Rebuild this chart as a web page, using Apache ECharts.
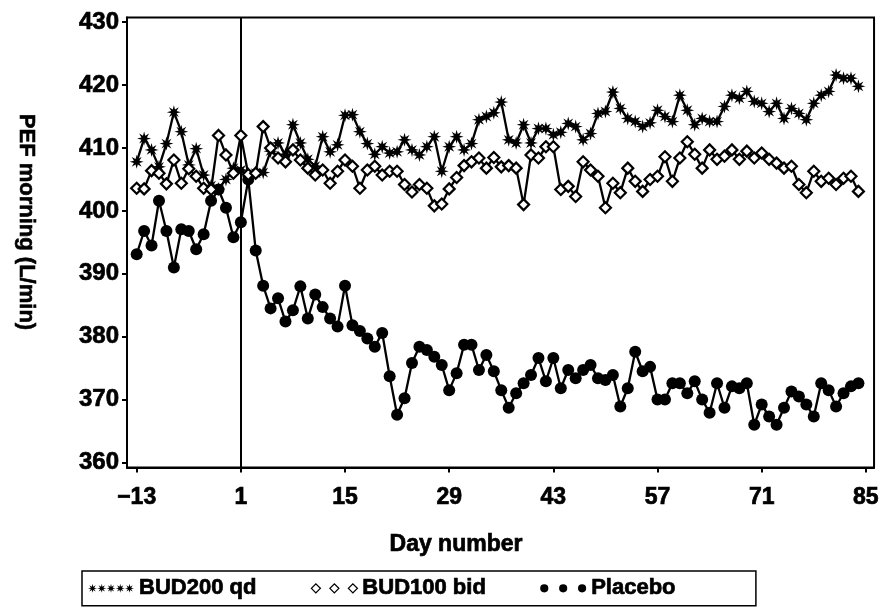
<!DOCTYPE html>
<html><head><meta charset="utf-8">
<script src="https://cdn.jsdelivr.net/npm/echarts@6/dist/echarts.min.js"></script>
<style>html,body{margin:0;padding:0;background:#fff}#c{width:882px;height:612px}</style>
</head><body><div id="c"></div>
<script>
// ---- data ----
const days = [-13,-12,-11,-10,-9,-8,-7,-6,-5,-4,-3,-2,-1,0,1,2,3,4,5,6,7,8,9,10,11,12,13,14,15,16,17,18,19,20,21,22,23,24,25,26,27,28,29,30,31,32,33,34,35,36,37,38,39,40,41,42,43,44,45,46,47,48,49,50,51,52,53,54,55,56,57,58,59,60,61,62,63,64,65,66,67,68,69,70,71,72,73,74,75,76,77,78,79,80,81,82,83,84];
const bud200 = [
  407.8,411.5,409.7,407.0,410.7,415.7,412.6,407.3,409.9,405.7,
  404.0,403.5,405.0,406.8,406.5,405.5,406.0,406.1,409.5,410.8,
  409.0,413.7,410.8,408.2,407.1,411.8,409.4,410.5,415.2,415.3,
  412.6,410.7,409.0,410.2,409.2,409.4,411.3,409.7,408.9,410.2,
  411.8,406.3,410.2,411.8,409.7,410.7,414.5,415.0,415.6,417.3,
  411.3,410.8,413.7,410.8,413.1,413.1,412.1,412.5,413.9,413.4,
  411.3,412.3,415.5,415.8,418.9,416.3,414.7,414.2,413.4,414.0,
  416.0,415.0,414.2,418.4,416.0,413.7,414.7,414.2,414.2,416.6,
  418.4,417.9,419.0,417.4,417.1,415.8,417.1,414.7,416.3,415.5,
  414.5,417.1,418.4,419.0,421.6,421.1,421.1,419.8];
const bud100 = [
  403.6,403.5,406.4,406.0,404.3,408.1,404.4,406.7,405.5,403.6,
  403.4,412.0,408.9,406.0,412.0,405.8,406.0,413.4,410.0,408.4,
  407.8,409.7,408.1,406.8,405.7,406.5,404.4,406.3,408.1,407.1,
  403.6,406.5,407.1,405.7,406.3,406.3,404.2,403.0,404.2,403.6,
  400.8,401.1,403.5,405.3,407.2,407.8,408.4,406.8,408.5,407.0,
  407.2,406.8,401.0,408.9,408.4,410.2,410.2,403.4,403.9,402.3,
  407.8,406.5,405.5,400.5,404.4,402.9,406.8,404.7,403.1,405.0,
  405.5,408.6,404.7,408.4,411.0,409.0,406.8,409.7,408.2,408.7,
  409.7,408.2,409.5,408.4,409.2,408.2,407.6,406.8,407.1,404.2,
  402.9,406.3,404.7,405.2,404.2,405.2,405.5,403.1];
const placebo = [
  393.1,396.8,394.5,401.6,396.8,391.0,397.1,396.8,393.9,396.3,
  401.6,403.4,400.5,395.8,398.2,405.0,393.7,388.1,384.5,386.1,
  382.4,384.2,388.0,382.9,386.7,384.7,382.9,381.6,388.1,381.8,
  380.9,379.7,378.4,380.6,373.7,367.6,370.2,375.8,378.4,377.9,
  376.8,375.5,371.5,374.2,378.7,378.7,374.7,377.1,374.5,371.5,
  368.7,371.0,372.6,373.9,376.6,372.9,376.6,371.8,374.7,373.4,
  374.7,375.5,373.4,373.1,373.9,368.9,371.8,377.6,374.5,375.2,
  370.0,370.0,372.6,372.6,371.0,372.9,370.0,367.9,372.6,368.7,
  372.1,371.8,372.6,366.0,369.2,367.3,366.0,368.7,371.3,370.5,
  369.2,367.3,372.6,371.5,368.9,371.0,372.1,372.6];
const xTicks = [-13,1,15,29,43,57,71,85];
const yTicks = [360,370,380,390,400,410,420,430];
const seriesNames = ['BUD200 qd','BUD100 bid','Placebo'];
const xTitle = 'Day number';
const yTitle = 'PEF morning (L/min)';
const treatmentStartDay = 1;

// ---- symbol paths (styling helpers) ----
function star(cx, cy, ro, ri) {
  let d = '';
  for (let k = 0; k < 16; k++) {
    const a = k * Math.PI / 8;
    const r = k % 2 === 0 ? ro : ri;
    const x = (cx + r * Math.cos(a)).toFixed(2), y = (cy + r * Math.sin(a)).toFixed(2);
    d += (k === 0 ? 'M' : 'L') + x + ' ' + y + ' ';
  }
  return d + 'Z ';
}
const starSymbol = 'path://' + star(10, 10, 10, 4.2);
const starRow = 'path://' + [4.5, 13.75, 23, 32.25, 41.5].map(c => star(c, 4.5, 4.5, 1.8)).join('');
const diamondRow = 'path://' + [4.5, 23, 41.5].map(c => `M${c-4.5} 4.5 L${c} 0 L${c+4.5} 4.5 L${c} 9 Z `).join('');
const dotRow = 'path://' + [4.5, 23, 41.5].map(c => `M${c-4} 4.5 A4 4 0 1 0 ${c+4} 4.5 A4 4 0 1 0 ${c-4} 4.5 Z `).join('');

const FONT = '"Liberation Sans", Arial, sans-serif';
const heavy = {fontFamily: FONT, fontWeight: 'bold', color: '#000', textBorderColor: '#000', textBorderWidth: 0.7};
const zip = arr => days.map((d, i) => [d, arr[i]]);

const chart = echarts.init(document.getElementById('c'), null, {renderer: 'canvas'});
chart.setOption({
  backgroundColor: '#fff',
  animation: false,
  grid: {left: 127, right: 7, top: 17.5, bottom: 144.5, show: true, borderColor: '#000', borderWidth: 2},
  xAxis: {
    type: 'value', min: -14.3, max: 86.1,
    axisLine: {show: true, onZero: false, lineStyle: {color: '#000', width: 2}},
    axisTick: {show: true, length: 5, inside: false, customValues: xTicks, lineStyle: {color: '#000', width: 2}},
    axisLabel: Object.assign({customValues: xTicks, margin: 19, fontSize: 23,
      formatter: v => String(v).replace('-', '\u2212')}, heavy),
    splitLine: {show: false}
  },
  yAxis: {
    type: 'value', min: 359.2, max: 430.75,
    axisLine: {show: true, onZero: false, lineStyle: {color: '#000', width: 2}},
    axisTick: {show: true, length: 5, customValues: yTicks, lineStyle: {color: '#000', width: 2}},
    axisLabel: Object.assign({customValues: yTicks, margin: 8, fontSize: 24}, heavy),
    splitLine: {show: false}
  },
  graphic: [{
    type: 'text', x: 26, y: 222, rotation: -Math.PI / 2,
    style: {text: yTitle, fontFamily: FONT, fontSize: 22, fontWeight: 'bold', fill: '#000',
      stroke: '#000', lineWidth: 0.6, align: 'center', verticalAlign: 'middle'}
  }, {
    type: 'text', x: 456, y: 545,
    style: {text: xTitle, fontFamily: FONT, fontSize: 23, fontWeight: 'bold', fill: '#000',
      stroke: '#000', lineWidth: 0.7, align: 'center', verticalAlign: 'middle'}
  }],
  legend: {
    left: 82, top: 571, orient: 'horizontal',
    padding: [6, 80, 6, 6], itemGap: 54, itemWidth: 46, itemHeight: 9,
    borderColor: '#000', borderWidth: 1.5,
    textStyle: Object.assign({fontSize: 22}, heavy),
    data: [
      {name: seriesNames[0], icon: starRow, itemStyle: {color: '#000', borderWidth: 0}},
      {name: seriesNames[1], icon: diamondRow, itemStyle: {color: '#fff', borderColor: '#000', borderWidth: 1.3}},
      {name: seriesNames[2], icon: dotRow, itemStyle: {color: '#000', borderWidth: 0}}
    ]
  },
  series: [
    {
      name: seriesNames[2], type: 'line', data: zip(placebo), z: 3,
      symbol: 'circle', symbolSize: 12, showAllSymbol: true,
      lineStyle: {color: '#000', width: 2.3}, itemStyle: {color: '#000'},
      markLine: {silent: true, symbol: 'none', label: {show: false},
        lineStyle: {color: '#000', width: 2, type: 'solid'}, data: [{xAxis: treatmentStartDay}]}
    },
    {
      name: seriesNames[0], type: 'line', data: zip(bud200), z: 4,
      symbol: starSymbol, symbolSize: 14, showAllSymbol: true,
      lineStyle: {color: '#000', width: 2.3}, itemStyle: {color: '#000'}
    },
    {
      name: seriesNames[1], type: 'line', data: zip(bud100), z: 5,
      symbol: 'diamond', symbolSize: 11, showAllSymbol: true,
      lineStyle: {color: '#000', width: 2.3}, itemStyle: {color: '#fff', borderColor: '#000', borderWidth: 2.2}
    }
  ]
});
</script></body></html>
